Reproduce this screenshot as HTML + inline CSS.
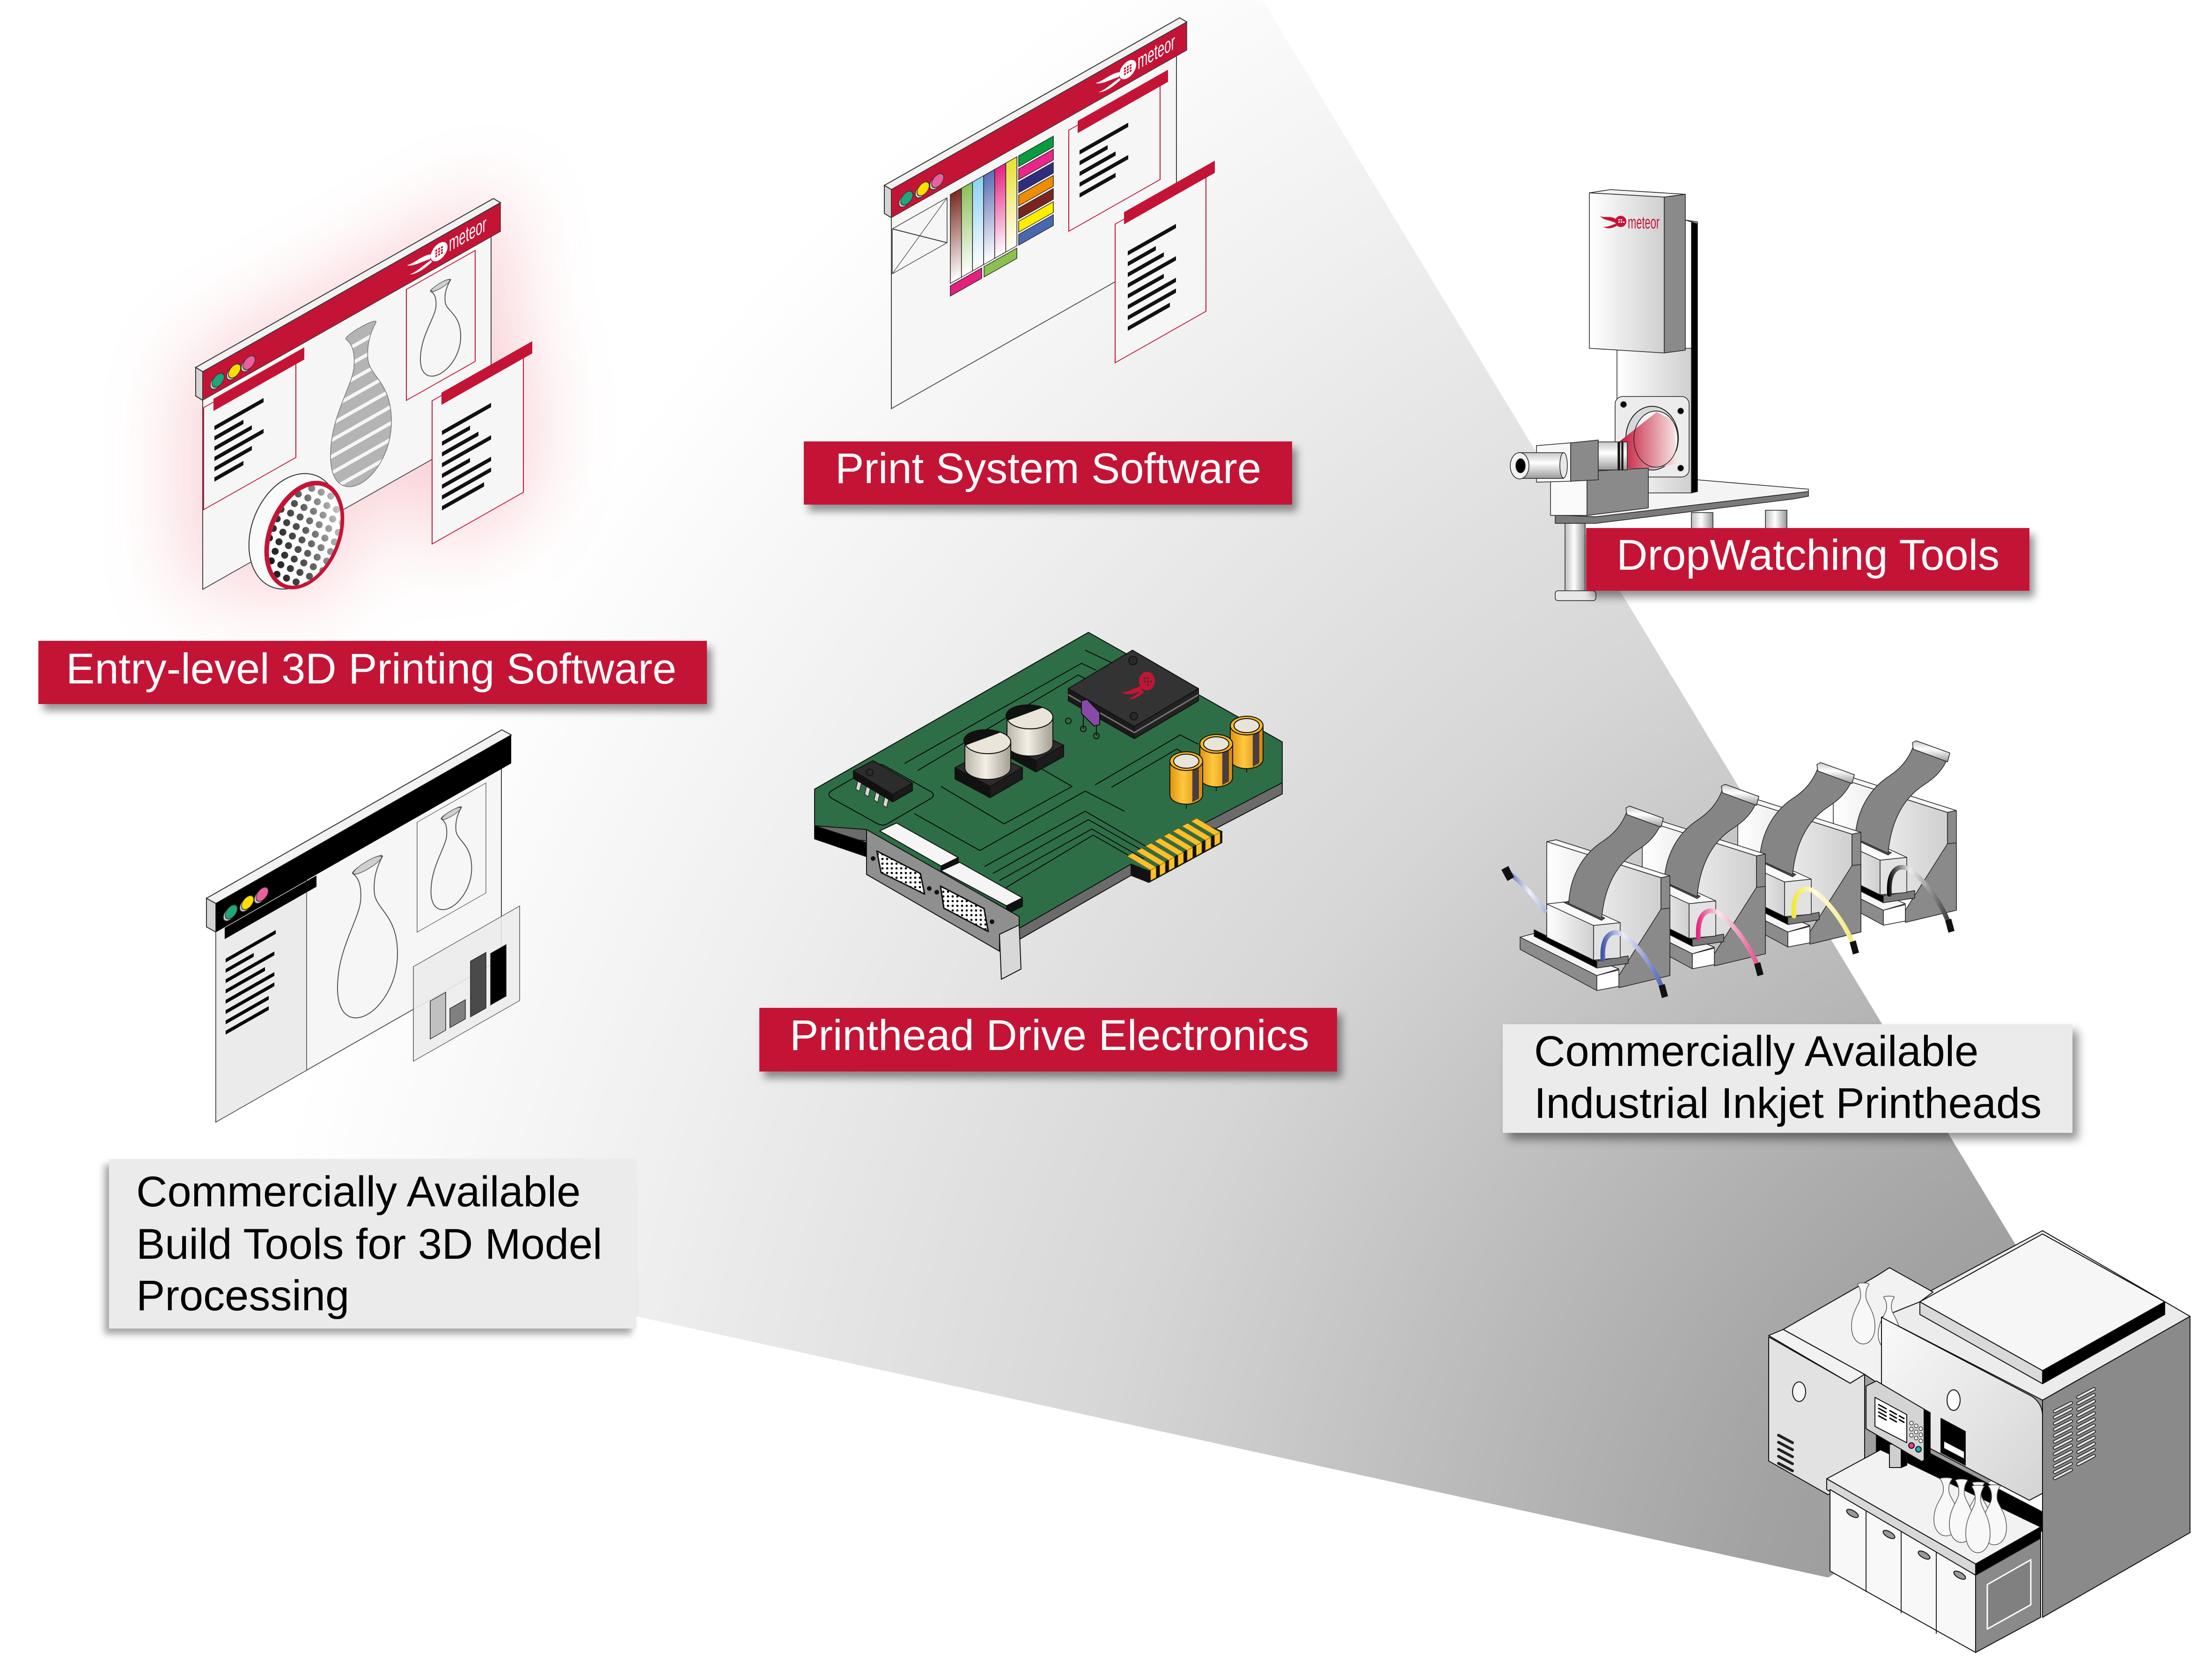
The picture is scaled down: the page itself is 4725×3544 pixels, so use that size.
<!DOCTYPE html>
<html><head><meta charset="utf-8"><title>Meteor</title>
<style>
html,body{margin:0;padding:0;background:#fff}
#root{position:relative;width:4725px;height:3544px;overflow:hidden;background:#fff}
#root svg{position:absolute;left:0;top:0}
.lab{position:absolute;background:#c41436;box-shadow:10px 14px 16px rgba(0,0,0,.42)}
.gbox{position:absolute;background:#ebebeb}
.t{position:absolute;font-family:"Liberation Sans",Arial,sans-serif;font-size:92px;line-height:92px;white-space:nowrap}
.w{color:#fff}.k{color:#000}
</style></head><body><div id="root">
<svg width="4725" height="3544" viewBox="0 0 4725 3544" xmlns="http://www.w3.org/2000/svg">
<defs>
<radialGradient id="cone" gradientUnits="userSpaceOnUse" cx="4862" cy="3579" r="4400">
<stop offset="0" stop-color="#8a8a8a"/><stop offset="0.26" stop-color="#a2a2a2"/><stop offset="0.58" stop-color="#d6d6d6"/><stop offset="0.82" stop-color="#efefef"/><stop offset="0.93" stop-color="#f9f9f9"/><stop offset="1" stop-color="#ffffff"/>
</radialGradient>
<filter id="glow" x="-60%" y="-60%" width="220%" height="220%"><feGaussianBlur stdDeviation="90"/></filter>
<pattern id="dots" patternUnits="userSpaceOnUse" width="22" height="22"><circle cx="11" cy="11" r="7.5" fill="#000"/></pattern>
<pattern id="pdots" patternUnits="userSpaceOnUse" width="10" height="10"><circle cx="5" cy="5" r="2.4" fill="#000"/></pattern>
<pattern id="stripe" patternUnits="userSpaceOnUse" width="100" height="10.5"><rect width="100" height="8" fill="#b4b4b4"/><rect y="8" width="100" height="2.5" fill="#f6f6f6"/></pattern>
<path id="vase" vector-effect="non-scaling-stroke" d="M-10,2 C-10,-1 10,-1 10,2 C6,7 4,13 4.5,22 C5,34 19.5,45 20,70 C20.5,90 10,100 0,100 C-10,100 -20.5,90 -20,70 C-19.5,45 -5,34 -4.5,22 C-4,13 -6,7 -10,2 Z"/>
<linearGradient id="s1" x1="0" y1="0" x2="0" y2="1"><stop offset="0" stop-color="#7b2a22"/><stop offset="1" stop-color="#fff"/></linearGradient>
<linearGradient id="s2" x1="0" y1="0" x2="0" y2="1"><stop offset="0" stop-color="#8cc05a"/><stop offset="1" stop-color="#fff"/></linearGradient>
<linearGradient id="s3" x1="0" y1="0" x2="0" y2="1"><stop offset="0" stop-color="#8ed2f2"/><stop offset="1" stop-color="#fff"/></linearGradient>
<linearGradient id="s4" x1="0" y1="0" x2="0" y2="1"><stop offset="0" stop-color="#5b6fb2"/><stop offset="1" stop-color="#fff"/></linearGradient>
<linearGradient id="s5" x1="0" y1="0" x2="0" y2="1"><stop offset="0" stop-color="#e52283"/><stop offset="1" stop-color="#fff"/></linearGradient>
<linearGradient id="s6" x1="0" y1="0" x2="0" y2="1"><stop offset="0" stop-color="#e8e030"/><stop offset="1" stop-color="#fff"/></linearGradient>
<linearGradient id="mg" x1="0" y1="0" x2="1" y2="0"><stop offset="0" stop-color="#b9b4a6"/><stop offset="0.45" stop-color="#f3efe6"/><stop offset="1" stop-color="#a39e90"/></linearGradient>
<linearGradient id="gg" x1="0" y1="0" x2="1" y2="0"><stop offset="0" stop-color="#e0920c"/><stop offset="0.4" stop-color="#ffc840"/><stop offset="1" stop-color="#d08408"/></linearGradient>
<linearGradient id="cyl" x1="0" y1="0" x2="1" y2="0"><stop offset="0" stop-color="#bdbdbd"/><stop offset="0.45" stop-color="#ffffff"/><stop offset="1" stop-color="#969696"/></linearGradient>
<linearGradient id="cylv" x1="0" y1="0" x2="0" y2="1"><stop offset="0" stop-color="#c8c8c8"/><stop offset="0.4" stop-color="#ffffff"/><stop offset="1" stop-color="#9a9a9a"/></linearGradient>
<linearGradient id="wg" x1="0" y1="0" x2="1" y2="0"><stop offset="0" stop-color="#ffffff"/><stop offset="1" stop-color="#cfcfcf"/></linearGradient>
<linearGradient id="hoodg" x1="0" y1="0" x2="1" y2="1"><stop offset="0" stop-color="#fafafa"/><stop offset="1" stop-color="#d4d4d4"/></linearGradient>
<linearGradient id="rc" x1="0" y1="0" x2="1" y2="0"><stop offset="0" stop-color="#c41436"/><stop offset="1" stop-color="#f7e6e6"/></linearGradient>
<linearGradient id="fade" x1="1" y1="0" x2="0" y2="1"><stop offset="0" stop-color="#fff" stop-opacity="0.95"/><stop offset="0.5" stop-color="#fff" stop-opacity="0.35"/><stop offset="1" stop-color="#fff" stop-opacity="0"/></linearGradient>
<linearGradient id="tb" gradientUnits="userSpaceOnUse" x1="3420" y1="0" x2="3556" y2="0"><stop offset="0" stop-color="#3a4ea8"/><stop offset="0.35" stop-color="#eef0fa"/><stop offset="1" stop-color="#4a5cb0"/></linearGradient>
<linearGradient id="tp" gradientUnits="userSpaceOnUse" x1="3420" y1="0" x2="3556" y2="0"><stop offset="0" stop-color="#e2207a"/><stop offset="0.35" stop-color="#fbe6ef"/><stop offset="1" stop-color="#e04a88"/></linearGradient>
<linearGradient id="ty" gradientUnits="userSpaceOnUse" x1="3420" y1="0" x2="3556" y2="0"><stop offset="0" stop-color="#f2e630"/><stop offset="0.35" stop-color="#fffbe0"/><stop offset="1" stop-color="#f0e878"/></linearGradient>
<linearGradient id="tk" gradientUnits="userSpaceOnUse" x1="3420" y1="0" x2="3556" y2="0"><stop offset="0" stop-color="#000"/><stop offset="0.35" stop-color="#eeeeee"/><stop offset="1" stop-color="#333"/></linearGradient>
<linearGradient id="tbi" gradientUnits="userSpaceOnUse" x1="3213" y1="0" x2="3303" y2="0"><stop offset="0" stop-color="#3a4ea8"/><stop offset="0.6" stop-color="#f0f2fa"/><stop offset="1" stop-color="#aab4e0"/></linearGradient>
<g id="logoW">
<path d="M488,26 C470,17 455,25 436,20 C450,31 468,30 486,35 Z M487,38 C472,40 458,46 442,43 C457,51 474,49 490,43 Z" fill="#fff"/>
<circle cx="505" cy="30" r="18" fill="#fff"/>
<g fill="#c41436"><rect x="497" y="22" width="4" height="4"/><rect x="503" y="22" width="4" height="4"/><rect x="509" y="22" width="4" height="4"/><rect x="497" y="28" width="4" height="4"/><rect x="503" y="28" width="4" height="4"/><rect x="509" y="28" width="4" height="4"/><rect x="497" y="34" width="4" height="4"/><rect x="503" y="34" width="4" height="4"/><rect x="509" y="34" width="4" height="4"/></g>
<text x="526" y="42" font-family="Liberation Sans, Arial, sans-serif" font-size="46" fill="#fff" textLength="80" lengthAdjust="spacingAndGlyphs">meteor</text>
</g>
<g id="lights" stroke="#333" stroke-width="1.5">
<circle cx="29" cy="39" r="13" fill="#cfcfcf"/><circle cx="33" cy="37" r="13" fill="#1fa67a"/>
<circle cx="64" cy="39" r="13" fill="#cfcfcf"/><circle cx="68" cy="37" r="13" fill="#ffdf00"/>
<circle cx="95" cy="39" r="13" fill="#cfcfcf"/><circle cx="99" cy="37" r="13" fill="#e8609e"/>
</g>
<g id="phm" stroke="#222" stroke-width="1.5" stroke-linejoin="round">
<polygon points="3304,1798 3548,1875 3548,2086 3304,2002" fill="url(#wg)"/>
<polygon points="3304,1798 3324,1794 3567,1871 3548,1875" fill="#f6f6f6"/>
<polygon points="3548,1875 3567,1871 3567,2084 3548,2086" fill="#8a8a8a"/>
<polygon points="3458,2084 3548,1942 3567,1940 3567,2084 3458,2110" fill="#8a8a8a"/>
<polygon points="3247,2002 3277,1994 3458,2070 3411,2084" fill="#f4f4f4"/>
<polygon points="3247,2002 3411,2084 3411,2116 3247,2028" fill="#8c8c8c"/>
<polygon points="3411,2084 3458,2072 3458,2107 3411,2116" fill="#ffffff"/>
<polygon points="3277,1986 3411,2053 3411,2068 3277,2000" fill="#000"/>
<polygon points="3411,2053 3478,2042 3478,2058 3411,2068" fill="#7a7a7a"/>
<polygon points="3304,1931 3404,1977 3404,2051 3304,2002" fill="url(#wg)"/>
<polygon points="3404,1977 3461,1971 3461,2046 3404,2051" fill="#e2e2e2"/>
<polygon points="3304,1931 3360,1925 3461,1971 3404,1977" fill="#fafafa"/>
<polygon points="3341,1928 3351,1925 3428,1961 3421,1966" fill="#555"/>
<path d="M3351,1930 C3353,1880 3375,1830 3421,1799 C3450,1780 3465,1760 3475,1734 L3548,1760 C3535,1790 3515,1805 3495,1818 C3455,1845 3428,1890 3421,1962 Z" fill="#858585"/>
<polygon points="3473,1726 3481,1722 3553,1748 3548,1767 3475,1740" fill="url(#cylv)"/>
</g>
</defs>

<rect width="4725" height="3544" fill="#fff"/>
<polygon points="2697,0 4398,2812 4363,3100 3905,3370 0,2514 0,0" fill="url(#cone)"/>

<!-- ============ PANEL 1 : Entry-level ============ -->
<g filter="url(#glow)" opacity="0.27">
<polygon points="400,780 1085,400 1085,915 400,1290" fill="#e85060"/>
<polygon points="905,850 1135,725 1135,1070 905,1185" fill="#e85060"/>
<ellipse cx="630" cy="1135" rx="110" ry="145" fill="#e85060"/>
</g>
<polygon points="418,785 1054,424 1069,433 433,794" fill="#f2f2f2" stroke="#333" stroke-width="2"/>
<polygon points="418,785 433,794 433,855 418,846" fill="#d4d4d4" stroke="#333" stroke-width="2"/>
<g transform="matrix(1,-0.567,0,1,433,794)">
<rect x="0" y="0" width="616" height="465" fill="#f6f6f6" stroke="#444" stroke-width="2"/>
<rect x="0" y="0" width="636" height="61" fill="#c41436" stroke="#333" stroke-width="1.5"/>
<use href="#lights"/>
<use href="#logoW"/>
<rect x="2" y="78" width="197" height="218" fill="#f6f6f6" stroke="#c41436" stroke-width="2"/>
<rect x="23" y="71" width="194" height="26" fill="#c41436"/>
<g fill="#111"><rect x="25" y="130" width="105" height="9"/><rect x="25" y="152" width="62" height="9"/><rect x="25" y="174" width="80" height="9"/><rect x="25" y="196" width="105" height="9"/><rect x="25" y="218" width="80" height="9"/><rect x="25" y="240" width="62" height="9"/></g>
<use href="#vase" transform="translate(338,97) scale(3.25,3.33)" fill="url(#stripe)" stroke="#777" stroke-width="1.5"/>
<rect x="435" y="71" width="147" height="237" fill="#f6f6f6" stroke="#c41436" stroke-width="2"/>
<use href="#vase" transform="translate(508,100) scale(2.15,1.92)" fill="#f6f6f6" stroke="#555" stroke-width="2"/>
<ellipse cx="508" cy="104" rx="20" ry="6" fill="#cfcfcf" stroke="#555" stroke-width="1.5"/>
<rect x="490" y="340" width="195" height="306" fill="#f6f6f6" stroke="#c41436" stroke-width="2"/>
<rect x="510" y="334" width="194" height="26" fill="#c41436"/>
<g fill="#111"><rect x="511" y="416" width="105" height="9"/><rect x="511" y="439" width="60" height="9"/><rect x="511" y="462" width="78" height="9"/><rect x="511" y="485" width="105" height="9"/><rect x="511" y="508" width="60" height="9"/><rect x="511" y="531" width="105" height="9"/><rect x="511" y="554" width="105" height="9"/><rect x="511" y="577" width="90" height="9"/></g>
</g>
<ellipse cx="628" cy="1135" rx="90" ry="128" transform="rotate(22 628 1135)" fill="#fafafa" stroke="#333" stroke-width="2"/>
<ellipse cx="650" cy="1143" rx="78" ry="121" transform="rotate(22 650 1143)" fill="#c41436"/>
<ellipse cx="651" cy="1144" rx="69" ry="112" transform="rotate(22 651 1144)" fill="#fff"/>
<ellipse cx="651" cy="1144" rx="69" ry="112" transform="rotate(22 651 1144)" fill="url(#dots)"/>
<ellipse cx="651" cy="1144" rx="69" ry="112" transform="rotate(22 651 1144)" fill="url(#fade)"/>

<!-- ============ PANEL 2 : Print System ============ -->
<polygon points="1889,396 2520,38 2535,47 1904,405" fill="#f2f2f2" stroke="#333" stroke-width="2"/>
<polygon points="1889,396 1904,405 1904,465 1889,456" fill="#d4d4d4" stroke="#333" stroke-width="2"/>
<g transform="matrix(1,-0.567,0,1,1904,405)">
<rect x="0" y="0" width="609" height="468" fill="#f6f6f6" stroke="#444" stroke-width="2"/>
<rect x="0" y="0" width="631" height="60" fill="#c41436" stroke="#333" stroke-width="1.5"/>
<use href="#lights"/>
<use href="#logoW"/>
<rect x="2" y="85" width="117" height="96" fill="#f6f6f6" stroke="#333" stroke-width="1.5"/>
<path d="M2,85 L119,181 M119,85 L2,181" stroke="#333" stroke-width="1.5"/>
<g stroke="#222" stroke-width="1.5">
<rect x="126" y="82" width="23.7" height="190" fill="url(#s1)"/>
<rect x="149.7" y="82" width="23.7" height="190" fill="url(#s2)"/>
<rect x="173.4" y="82" width="23.7" height="190" fill="url(#s3)"/>
<rect x="197.1" y="82" width="23.7" height="190" fill="url(#s4)"/>
<rect x="220.8" y="82" width="23.7" height="190" fill="url(#s5)"/>
<rect x="244.5" y="82" width="23.7" height="190" fill="url(#s6)"/>
<rect x="126" y="277" width="67" height="22" fill="#e4207e"/>
<rect x="198" y="277" width="70" height="22" fill="#8cc050"/>
<rect x="272" y="82" width="74" height="23" fill="#0a9a40"/>
<rect x="272" y="110" width="74" height="23" fill="#e6288a"/>
<rect x="272" y="138" width="74" height="23" fill="#2e2e80"/>
<rect x="272" y="166" width="74" height="23" fill="#f08c00"/>
<rect x="272" y="194" width="74" height="23" fill="#7a2420"/>
<rect x="272" y="222" width="74" height="23" fill="#ffee00"/>
<rect x="272" y="250" width="74" height="23" fill="#4a68b0"/>
</g>
<rect x="379" y="88" width="195" height="216" fill="#f6f6f6" stroke="#c41436" stroke-width="2"/>
<rect x="398" y="79" width="193" height="26" fill="#c41436"/>
<g fill="#111"><rect x="402" y="144" width="104" height="9"/><rect x="402" y="167" width="60" height="9"/><rect x="402" y="190" width="77" height="9"/><rect x="402" y="213" width="104" height="9"/><rect x="402" y="236" width="77" height="9"/></g>
<rect x="478" y="345" width="194" height="296" fill="#f6f6f6" stroke="#c41436" stroke-width="2"/>
<rect x="497" y="330" width="194" height="26" fill="#c41436"/>
<g fill="#111"><rect x="505" y="418" width="103" height="9"/><rect x="505" y="441" width="60" height="9"/><rect x="505" y="464" width="77" height="9"/><rect x="505" y="487" width="103" height="9"/><rect x="505" y="510" width="77" height="9"/><rect x="505" y="533" width="103" height="9"/><rect x="505" y="556" width="103" height="9"/><rect x="505" y="579" width="90" height="9"/></g>
</g>

<!-- ============ PANEL 3 : Build tools ============ -->
<polygon points="441,1919 1072,1559 1092,1570 461,1930" fill="#f2f2f2" stroke="#333" stroke-width="2"/>
<polygon points="441,1919 461,1930 461,1991 441,1980" fill="#d4d4d4" stroke="#333" stroke-width="2"/>
<g transform="matrix(1,-0.571,0,1,461,1930)">
<rect x="0" y="0" width="610" height="467" fill="#f6f6f6" stroke="#444" stroke-width="2"/>
<rect x="0" y="61" width="194" height="406" fill="#ebebeb" stroke="#444" stroke-width="1.5"/>
<rect x="0" y="0" width="631" height="61" fill="#000"/>
<use href="#lights"/>
<rect x="19" y="63" width="196" height="24" fill="#000"/>
<g fill="#000"><rect x="21" y="130" width="107" height="8"/><rect x="21" y="152" width="60" height="8"/><rect x="21" y="174" width="104" height="8"/><rect x="21" y="196" width="84" height="8"/><rect x="21" y="218" width="104" height="8"/><rect x="21" y="240" width="104" height="8"/><rect x="21" y="262" width="92" height="8"/><rect x="21" y="284" width="92" height="8"/></g>
<use href="#vase" transform="translate(324,96) scale(3.2,3.26)" fill="#f6f6f6" stroke="#555" stroke-width="2"/>
<ellipse cx="324" cy="103" rx="30" ry="9" fill="#cfcfcf" stroke="#555" stroke-width="1.5"/>
<rect x="430" y="72" width="147" height="235" fill="#f6f6f6" stroke="#666" stroke-width="1.5"/>
<use href="#vase" transform="translate(503,90) scale(2.17,2.05)" fill="#f6f6f6" stroke="#555" stroke-width="2"/>
<ellipse cx="503" cy="95" rx="20" ry="6" fill="#cfcfcf" stroke="#555" stroke-width="1.5"/>
<rect x="422" y="376" width="227" height="202" fill="#ececec" fill-opacity="0.9" stroke="#555" stroke-width="1.5"/>
<g stroke="#222" stroke-width="1.5"><rect x="458" y="470" width="33" height="81" fill="#c0c0c0"/><rect x="500" y="510" width="33" height="41" fill="#808080"/><rect x="544" y="434" width="33" height="119" fill="#4a4a4a"/><rect x="587" y="442" width="33" height="110" fill="#000"/></g>
</g>

<!-- ============ PCB ============ -->
<g stroke="#111" stroke-width="2" stroke-linejoin="round">
<polygon points="1740,1686 2325,1351 2739,1585 2739,1696 2570,1784 2610,1800 2454,1885 2416,1870 2177,2007 1851,1796 1740,1788" fill="#6b6b6b"/>
<polygon points="1740,1764 1851,1800 1851,1830 1740,1792" fill="#000"/>
<polygon points="1740,1686 2325,1351 2739,1585 2739,1672 2570,1760 2610,1776 2454,1861 2416,1846 2177,1983 1851,1772 1740,1764" fill="#2e6e46"/>
<g fill="none" stroke="#0c0c0c" stroke-width="2">
<polyline points="2318,1389 2405,1430"/>
<polyline points="1932,1631 2310,1417 2342,1432"/>
<polyline points="1960,1646 2303,1442 2328,1455"/>
<polyline points="1953,1738 2093,1817 2318,1690 2402,1733"/>
<polyline points="2103,1851 2318,1733 2472,1822"/>
<polyline points="2121,1866 2325,1751 2458,1827"/>
<polyline points="2135,1881 2332,1771 2444,1835"/>
<polyline points="2149,1896 2335,1784 2433,1840"/>
<polyline points="2339,1677 2521,1570 2560,1590"/>
<polyline points="2374,1682 2514,1600 2539,1616"/>
<polyline points="2010,1680 2145,1760 2290,1680 2200,1628"/>
<path d="M1775,1690 L1870,1635 Q1880,1630 1890,1636 L1990,1692 Q1998,1700 1988,1706 L1895,1760 Q1885,1765 1875,1760 L1776,1705 Q1766,1698 1775,1690 Z"/>
</g>
<polygon points="2454,1861 2610,1776 2610,1798 2454,1883" fill="#111"/>
<polygon points="2416,1846 2454,1861 2454,1883 2416,1868" fill="#111"/>
<g fill="#f8c030" stroke="#8a6000" stroke-width="1">
<polygon points="2457.9,1858.9 2469.6,1852.5 2419.6,1822.5 2407.9,1828.9"/>
<polygon points="2477.4,1848.3 2489.1,1841.9 2439.1,1811.9 2427.4,1818.3"/>
<polygon points="2496.9,1837.6 2508.6,1831.2 2458.6,1801.2 2446.9,1807.6"/>
<polygon points="2516.4,1827 2528.1,1820.6 2478.1,1790.6 2466.4,1797"/>
<polygon points="2535.9,1816.4 2547.6,1810 2497.6,1780 2485.9,1786.4"/>
<polygon points="2555.4,1805.8 2567.1,1799.4 2517.1,1769.4 2505.4,1775.8"/>
<polygon points="2574.9,1795.1 2586.6,1788.7 2536.6,1758.7 2524.9,1765.1"/>
<polygon points="2594.4,1784.5 2606.1,1778.1 2556.1,1748.1 2544.4,1754.5"/>
<polygon points="2457.9,1858.9 2469.6,1852.5 2469.6,1874.5 2457.9,1880.9"/>
<polygon points="2477.4,1848.3 2489.1,1841.9 2489.1,1863.9 2477.4,1870.3"/>
<polygon points="2496.9,1837.6 2508.6,1831.2 2508.6,1853.2 2496.9,1859.6"/>
<polygon points="2516.4,1827 2528.1,1820.6 2528.1,1842.6 2516.4,1849"/>
<polygon points="2535.9,1816.4 2547.6,1810 2547.6,1832 2535.9,1838.4"/>
<polygon points="2555.4,1805.8 2567.1,1799.4 2567.1,1821.4 2555.4,1827.8"/>
<polygon points="2574.9,1795.1 2586.6,1788.7 2586.6,1810.7 2574.9,1817.1"/>
<polygon points="2594.4,1784.5 2606.1,1778.1 2606.1,1800.1 2594.4,1806.5"/>
</g>
<polygon points="1823,1647 1907,1697 1907,1713 1823,1663" fill="#111"/>
<polygon points="1907,1697 1949,1673 1949,1689 1907,1713" fill="#1a1a1a"/>
<polygon points="1823,1647 1865,1625 1949,1673 1907,1697" fill="#2c2c2c"/>
<circle cx="1858" cy="1650" r="7" fill="#2c2c2c"/>
<g fill="#d6d6d6" stroke="#222" stroke-width="1.5">
<polygon points="1832,1669 1840,1673 1836,1690 1828,1686"/><polygon points="1851,1680 1859,1685 1855,1702 1847,1697"/><polygon points="1871,1692 1879,1697 1875,1714 1867,1709"/><polygon points="1890,1703 1898,1708 1894,1725 1886,1720"/>
</g>
<polygon points="2149,1590 2213,1625 2213,1649 2149,1614" fill="#111"/>
<polygon points="2213,1625 2272,1592 2272,1616 2213,1649" fill="#1c1c1c"/>
<polygon points="2149,1590 2205,1560 2272,1592 2213,1625" fill="#2c2c2c"/>
<path d="M2151,1532 L2151,1590 A49,25 0 0 0 2249,1590 L2249,1532 Z" fill="url(#mg)"/>
<ellipse cx="2200" cy="1532" rx="49" ry="25" fill="#e9e5da"/>
<path d="M2153,1538 A47,23 0 0 1 2226,1511 Z" fill="#111"/>
<polygon points="2040,1640 2115,1680 2115,1704 2040,1664" fill="#111"/>
<polygon points="2115,1680 2184,1640 2184,1664 2115,1704" fill="#1c1c1c"/>
<polygon points="2040,1640 2105,1605 2184,1640 2115,1680" fill="#2c2c2c"/>
<path d="M2061,1585 L2061,1640 A49,25 0 0 0 2159,1640 L2159,1585 Z" fill="url(#mg)"/>
<ellipse cx="2110" cy="1585" rx="49" ry="25" fill="#e9e5da"/>
<path d="M2063,1591 A47,23 0 0 1 2136,1564 Z" fill="#111"/>
<polygon points="2282,1471 2423,1552 2423,1578 2282,1497" fill="#1a1a1a"/>
<polygon points="2423,1552 2560,1471 2560,1497 2423,1578" fill="#232323"/>
<polyline points="2282,1484 2423,1565 2560,1484" fill="none" stroke="#777" stroke-width="3"/>
<polygon points="2282,1471 2419,1389 2560,1471 2423,1552" fill="#333"/>
<circle cx="2420" cy="1411" r="9" fill="#2a2a2a"/><circle cx="2422" cy="1530" r="8" fill="#2a2a2a"/>
<g stroke="none" fill="#c41436"><ellipse cx="2450" cy="1455" rx="17" ry="20"/><path d="M2436,1466 C2420,1470 2410,1480 2395,1478 C2408,1488 2425,1482 2440,1474 Z M2438,1474 C2428,1484 2420,1490 2410,1492 C2422,1496 2432,1488 2444,1478 Z"/></g>
<g stroke="none" fill="#333"><rect x="2443" y="1447" width="4" height="4"/><rect x="2450" y="1447" width="4" height="4"/><rect x="2443" y="1454" width="4" height="4"/><rect x="2450" y="1454" width="4" height="4"/><rect x="2457" y="1454" width="4" height="4"/><rect x="2450" y="1461" width="4" height="4"/></g>
<line x1="2314" y1="1524" x2="2314" y2="1557"/><line x1="2342" y1="1548" x2="2342" y2="1572"/>
<circle cx="2314" cy="1557" r="6" fill="none"/><circle cx="2342" cy="1572" r="6" fill="none"/><circle cx="2282" cy="1540" r="6" fill="none"/>
<polygon points="2310,1497 2322,1494 2349,1522 2349,1548 2337,1551 2310,1524" fill="#8a48a8"/>
<g>
<line x1="2663" y1="1620" x2="2663" y2="1650"/>
<path d="M2628,1550 L2628,1622 A35,20 0 0 0 2698,1622 L2698,1550 Z" fill="url(#gg)"/>
<path d="M2676,1565 L2690,1558 L2690,1630 L2676,1638 Z" fill="#4a3c40" stroke="none"/>
<ellipse cx="2663" cy="1550" rx="35" ry="20" fill="#f5b820"/><ellipse cx="2663" cy="1550" rx="27" ry="15" fill="#e8e4da"/>
<line x1="2598" y1="1660" x2="2598" y2="1690"/>
<path d="M2563,1589 L2563,1661 A35,20 0 0 0 2633,1661 L2633,1589 Z" fill="url(#gg)"/>
<path d="M2611,1604 L2625,1597 L2625,1669 L2611,1677 Z" fill="#4a3c40" stroke="none"/>
<ellipse cx="2598" cy="1589" rx="35" ry="20" fill="#f5b820"/><ellipse cx="2598" cy="1589" rx="27" ry="15" fill="#e8e4da"/>
<line x1="2534" y1="1697" x2="2534" y2="1728"/>
<path d="M2499,1626 L2499,1698 A35,20 0 0 0 2569,1698 L2569,1626 Z" fill="url(#gg)"/>
<path d="M2547,1641 L2561,1634 L2561,1706 L2547,1714 Z" fill="#4a3c40" stroke="none"/>
<ellipse cx="2534" cy="1626" rx="35" ry="20" fill="#f5b820"/><ellipse cx="2534" cy="1626" rx="27" ry="15" fill="#e8e4da"/>
</g>
<polygon points="1879,1775 1915,1758 2047,1832 2010,1850" fill="#f5f5f5"/>
<polygon points="2010,1850 2047,1832 2047,1846 2010,1864" fill="#111"/>
<polygon points="2010,1860 2050,1842 2184,1918 2150,1935" fill="#f5f5f5"/>
<polygon points="2150,1935 2184,1918 2184,1936 2150,1953" fill="#111"/>
<polygon points="1851,1772 2177,1958 2177,1976 2135,1996 2135,2032 1851,1868" fill="#8f8f8f"/>
<polygon points="2135,1996 2177,1976 2181,2070 2139,2092" fill="#d8d8d8"/>
<polygon points="1873,1818 1966,1866 1975,1910 1882,1864" fill="#fff" stroke-width="3"/>
<polygon points="1873,1818 1966,1866 1975,1910 1882,1864" fill="url(#pdots)" stroke="none"/>
<polygon points="2009,1893 2102,1941 2111,1990 2016,1940" fill="#fff" stroke-width="3"/>
<polygon points="2009,1893 2102,1941 2111,1990 2016,1940" fill="url(#pdots)" stroke="none"/>
<g fill="#111" stroke="none"><circle cx="1865" cy="1834" r="5"/><circle cx="1985" cy="1898" r="5"/><circle cx="2001" cy="1906" r="5"/><circle cx="2119" cy="1969" r="5"/></g>
</g>

<!-- ============ DropWatching ============ -->
<g stroke="#222" stroke-width="1.5" stroke-linejoin="round">
<rect x="3613" y="1095" width="46" height="45" fill="url(#cyl)"/>
<rect x="3771" y="1090" width="46" height="50" fill="url(#cyl)"/>
<polygon points="3322,1100 3450,1050 3626,1025 3863,1045 3863,1050 3409,1104" fill="#f4f4f4"/>
<polygon points="3322,1100 3409,1104 3863,1050 3863,1060 3830,1066 3409,1118 3322,1118" fill="#7a7a7a"/>
<rect x="3343" y="1118" width="43" height="148" fill="url(#cyl)"/>
<rect x="3322" y="1262" width="87" height="21" rx="6" fill="#e8e8e8"/>
<rect x="3454" y="744" width="159" height="309" fill="url(#wg)"/>
<polygon points="3613,474 3626,478 3626,1050 3613,1053" fill="#000"/>
<polygon points="3600,470 3626,474 3626,478 3613,474" fill="#bbb"/>
<polygon points="3395,412 3440,405 3600,415 3555,421" fill="#f2f2f2"/>
<polygon points="3395,412 3555,421 3555,754 3395,744" fill="url(#wg)"/>
<polygon points="3555,421 3600,415 3600,748 3555,754" fill="#8a8a8a"/>
<rect x="3450" y="847" width="158" height="172" rx="16" fill="#ececec"/>
<g fill="#000"><circle cx="3468" cy="864" r="6"/><circle cx="3590" cy="878" r="6"/><circle cx="3590" cy="1000" r="6"/></g>
<ellipse cx="3529" cy="936" rx="56" ry="68" fill="#d8d8d8" stroke-width="2"/>
<ellipse cx="3537" cy="938" rx="47" ry="60" fill="#f4f4f4"/>
<polygon points="3458,944 3539,880 3576,900 3582,990 3530,1001 3476,1001" fill="url(#rc)" stroke="none"/>
<ellipse cx="3537" cy="938" rx="47" ry="60" fill="none"/>
<polygon points="3312,1007 3390,1007 3390,1101 3312,1101" fill="#fafafa"/>
<polygon points="3390,1007 3521,1000 3521,1085 3390,1101" fill="#8a8a8a"/>
<polygon points="3282,952 3355,946 3355,1028 3282,1030" fill="#f8f8f8"/>
<polygon points="3355,946 3414,940 3414,1025 3355,1028" fill="#8a8a8a"/>
<rect x="3414" y="944" width="62" height="60" fill="url(#cylv)"/>
<rect x="3456" y="944" width="4" height="60" fill="#111"/><rect x="3464" y="944" width="3" height="60" fill="#111"/>
<rect x="3246" y="967" width="94" height="55" fill="url(#cylv)"/>
<ellipse cx="3340" cy="994" rx="8" ry="27" fill="#e8e8e8"/>
<ellipse cx="3246" cy="995" rx="20" ry="28" fill="#f2f2f2"/>
<ellipse cx="3248" cy="995" rx="10" ry="15" fill="#000"/>
</g>
<g fill="#c41436">
<circle cx="3462" cy="473" r="12"/>
<path d="M3452,468 C3440,460 3430,466 3418,462 C3428,472 3440,470 3450,476 Z M3451,478 C3440,482 3432,486 3424,484 C3434,490 3444,488 3454,482 Z"/>
<text x="3477" y="488" font-family="Liberation Sans, Arial, sans-serif" font-size="38" textLength="68" lengthAdjust="spacingAndGlyphs">meteor</text>
</g>
<g fill="#fff"><rect x="3457" y="468" width="3" height="3"/><rect x="3462" y="468" width="3" height="3"/><rect x="3457" y="473" width="3" height="3"/><rect x="3462" y="473" width="3" height="3"/><rect x="3467" y="473" width="3" height="3"/></g>

<!-- ============ Printheads ============ -->
<use href="#phm" transform="translate(612,-139.5)"/>
<g transform="translate(612,-139.5)"><path d="M3424,2050 C3420,1990 3450,1985 3468,1998 C3500,2020 3535,2070 3550,2110" fill="none" stroke="url(#tk)" stroke-width="10" stroke-linecap="round"/><polygon points="3543,2106 3556,2102 3563,2128 3550,2132" fill="#111"/></g>
<use href="#phm" transform="translate(408,-93)"/>
<g transform="translate(408,-93)"><path d="M3424,2050 C3420,1990 3450,1985 3468,1998 C3500,2020 3535,2070 3550,2110" fill="none" stroke="url(#ty)" stroke-width="10" stroke-linecap="round"/><polygon points="3543,2106 3556,2102 3563,2128 3550,2132" fill="#111"/></g>
<use href="#phm" transform="translate(204,-46.5)"/>
<g transform="translate(204,-46.5)"><path d="M3424,2050 C3420,1990 3450,1985 3468,1998 C3500,2020 3535,2070 3550,2110" fill="none" stroke="url(#tp)" stroke-width="10" stroke-linecap="round"/><polygon points="3543,2106 3556,2102 3563,2128 3550,2132" fill="#111"/></g>
<use href="#phm"/>
<path d="M3424,2050 C3420,1990 3450,1985 3468,1998 C3500,2020 3535,2070 3550,2110" fill="none" stroke="url(#tb)" stroke-width="10" stroke-linecap="round"/>
<polygon points="3543,2106 3556,2102 3563,2128 3550,2132" fill="#111"/>
<path d="M3220,1862 C3250,1885 3278,1915 3303,1950" fill="none" stroke="url(#tbi)" stroke-width="9"/>
<polygon points="3207,1858 3222,1850 3234,1874 3220,1882" fill="#111"/>

<!-- ============ Printer ============ -->
<g stroke="#111" stroke-width="2" stroke-linejoin="round">
<polygon points="4363,2991 4678,2812 4678,3274 4363,3455" fill="#8a8a8a"/>
<polygon points="4019,2814 4363,2629 4678,2812 4363,2991" fill="#ececec"/>
<polygon points="4101,2781 4363,2636 4624,2781 4363,2928" fill="#f6f6f6"/>
<polygon points="4101,2781 4363,2928 4363,2956 4101,2808" fill="#d9d9d9"/>
<polygon points="4363,2928 4624,2781 4624,2808 4363,2956" fill="#000"/>
<polygon points="3809,2840 4008,2726 4036,2708 4129,2760 4101,2781 4019,2814 4019,2960 3983,2936" fill="#f2f2f2"/>
<polygon points="3778,2853 3809,2840 3983,2936 3952,2955" fill="#f2f2f2"/>
<polygon points="3778,2856 3952,2955 3983,2936 3983,3160 3905,3193 3778,3121" fill="#e2e2e2"/>
<ellipse cx="3843" cy="2973" rx="14" ry="21" fill="#f6f6f6"/>
<g stroke="#222" stroke-width="6" stroke-linecap="round"><line x1="3799" y1="3066" x2="3829" y2="3082"/><line x1="3799" y1="3081" x2="3829" y2="3097"/><line x1="3799" y1="3096" x2="3829" y2="3112"/><line x1="3799" y1="3111" x2="3829" y2="3127"/><line x1="3799" y1="3126" x2="3829" y2="3142"/></g>
<use href="#vase" transform="translate(3980,2741) scale(1.25,1.3)" fill="#f8f8f8" stroke="#555" stroke-width="1.5"/>
<use href="#vase" transform="translate(4035,2769) scale(1.15,1.14)" fill="#f8f8f8" stroke="#555" stroke-width="1.5"/>
<path d="M4019,2814 L4335,2980 Q4363,2995 4363,3025 L4363,3190 L4335,3205 L4019,3040 Z" fill="url(#hoodg)"/>
<ellipse cx="4173" cy="2991" rx="14" ry="22" fill="#fff"/>
<polygon points="4146,3030 4198,3058 4198,3130 4146,3103" fill="#000"/>
<polygon points="4152,3078 4196,3101 4196,3117 4152,3094" fill="#fff"/>
<polygon points="4008,3045 4363,3230 4363,3272 4008,3110" fill="#000"/>
<g stroke-linecap="round">
<g stroke="#333" stroke-width="8"><line x1="4389" y1="3015" x2="4424" y2="2997"/><line x1="4389" y1="3028" x2="4424" y2="3010"/><line x1="4389" y1="3041" x2="4424" y2="3023"/><line x1="4389" y1="3054" x2="4424" y2="3036"/><line x1="4389" y1="3067" x2="4424" y2="3049"/><line x1="4389" y1="3080" x2="4424" y2="3062"/><line x1="4389" y1="3093" x2="4424" y2="3075"/><line x1="4389" y1="3106" x2="4424" y2="3088"/><line x1="4389" y1="3119" x2="4424" y2="3101"/><line x1="4389" y1="3132" x2="4424" y2="3114"/><line x1="4389" y1="3145" x2="4424" y2="3127"/><line x1="4389" y1="3158" x2="4424" y2="3140"/>
<line x1="4439" y1="2985" x2="4473" y2="2967"/><line x1="4439" y1="2998" x2="4473" y2="2980"/><line x1="4439" y1="3011" x2="4473" y2="2993"/><line x1="4439" y1="3024" x2="4473" y2="3006"/><line x1="4439" y1="3037" x2="4473" y2="3019"/><line x1="4439" y1="3050" x2="4473" y2="3032"/><line x1="4439" y1="3063" x2="4473" y2="3045"/><line x1="4439" y1="3076" x2="4473" y2="3058"/><line x1="4439" y1="3089" x2="4473" y2="3071"/><line x1="4439" y1="3102" x2="4473" y2="3084"/><line x1="4439" y1="3115" x2="4473" y2="3097"/><line x1="4439" y1="3128" x2="4473" y2="3110"/></g>
<g stroke="#e6e6e6" stroke-width="4"><line x1="4389" y1="3015" x2="4424" y2="2997"/><line x1="4389" y1="3028" x2="4424" y2="3010"/><line x1="4389" y1="3041" x2="4424" y2="3023"/><line x1="4389" y1="3054" x2="4424" y2="3036"/><line x1="4389" y1="3067" x2="4424" y2="3049"/><line x1="4389" y1="3080" x2="4424" y2="3062"/><line x1="4389" y1="3093" x2="4424" y2="3075"/><line x1="4389" y1="3106" x2="4424" y2="3088"/><line x1="4389" y1="3119" x2="4424" y2="3101"/><line x1="4389" y1="3132" x2="4424" y2="3114"/><line x1="4389" y1="3145" x2="4424" y2="3127"/><line x1="4389" y1="3158" x2="4424" y2="3140"/>
<line x1="4439" y1="2985" x2="4473" y2="2967"/><line x1="4439" y1="2998" x2="4473" y2="2980"/><line x1="4439" y1="3011" x2="4473" y2="2993"/><line x1="4439" y1="3024" x2="4473" y2="3006"/><line x1="4439" y1="3037" x2="4473" y2="3019"/><line x1="4439" y1="3050" x2="4473" y2="3032"/><line x1="4439" y1="3063" x2="4473" y2="3045"/><line x1="4439" y1="3076" x2="4473" y2="3058"/><line x1="4439" y1="3089" x2="4473" y2="3071"/><line x1="4439" y1="3102" x2="4473" y2="3084"/><line x1="4439" y1="3115" x2="4473" y2="3097"/><line x1="4439" y1="3128" x2="4473" y2="3110"/></g>
</g>
<polygon points="3902,3159 4017,3097 4359,3262 4220,3341" fill="#f2f2f2"/>
<polygon points="3902,3159 4220,3341 4220,3365 3902,3182" fill="#d8d8d8"/>
<polygon points="4220,3341 4359,3262 4359,3286 4220,3365" fill="#000"/>
<polygon points="3909,3182 4220,3365 4220,3530 3909,3356" fill="#f8f8f8"/>
<g stroke="#222" stroke-width="2"><line x1="3986" y1="3227" x2="3986" y2="3401"/><line x1="4061" y1="3272" x2="4061" y2="3446"/><line x1="4136" y1="3316" x2="4136" y2="3490"/></g>
<g fill="#9a9a9a"><ellipse cx="3957" cy="3233" rx="14" ry="6" transform="rotate(30 3957 3233)"/><ellipse cx="4035" cy="3278" rx="14" ry="6" transform="rotate(30 4035 3278)"/><ellipse cx="4110" cy="3322" rx="14" ry="6" transform="rotate(30 4110 3322)"/><ellipse cx="4186" cy="3365" rx="14" ry="6" transform="rotate(30 4186 3365)"/></g>
<polygon points="4220,3365 4359,3286 4359,3455 4220,3530" fill="#8a8a8a"/>
<polygon points="4245,3385 4338,3332 4338,3428 4245,3480" fill="#808080" stroke="#fff" stroke-width="3"/>
<rect x="4036" y="3085" width="25" height="50" fill="#cfcfcf"/>
<polygon points="4061,3085 4073,3080 4073,3130 4061,3135" fill="#000"/>
<polygon points="3986,2961 4008,2950 4123,3018 4123,3112 4105,3122 3986,3052" fill="#d4d4d4"/>
<polygon points="4110,3011 4123,3018 4123,3112 4110,3119" fill="#000"/>
<polygon points="4005,2985 4073,3022 4073,3082 4005,3047" fill="#fff"/>
<g stroke="#000" stroke-width="3"><line x1="4012" y1="3000" x2="4030" y2="3010"/><line x1="4012" y1="3008" x2="4030" y2="3018"/><line x1="4012" y1="3016" x2="4030" y2="3026"/><line x1="4012" y1="3024" x2="4030" y2="3034"/><line x1="4036" y1="3013" x2="4052" y2="3022"/><line x1="4036" y1="3021" x2="4052" y2="3030"/><line x1="4036" y1="3029" x2="4052" y2="3038"/><line x1="4056" y1="3024" x2="4068" y2="3031"/><line x1="4056" y1="3032" x2="4068" y2="3039"/></g>
<g fill="#fff" stroke-width="1.2"><circle cx="4083" cy="3040" r="4"/><circle cx="4093" cy="3046" r="4"/><circle cx="4103" cy="3052" r="4"/><circle cx="4083" cy="3053" r="4"/><circle cx="4093" cy="3059" r="4"/><circle cx="4103" cy="3065" r="4"/><circle cx="4083" cy="3066" r="4"/><circle cx="4093" cy="3072" r="4"/><circle cx="4103" cy="3078" r="4"/></g>
<circle cx="4083" cy="3088" r="6" fill="#e8408a"/><circle cx="4098" cy="3096" r="6" fill="#1ab0c0"/>
<use href="#vase" transform="translate(4157,3157) scale(1.3,1.24)" fill="#f8f8f8" stroke="#555" stroke-width="1.5"/>
<use href="#vase" transform="translate(4226,3166) scale(1.3,1.17)" fill="#f8f8f8" stroke="#555" stroke-width="1.5"/>
<use href="#vase" transform="translate(4260,3172) scale(1.3,1.28)" fill="#f8f8f8" stroke="#555" stroke-width="1.5"/>
<use href="#vase" transform="translate(4190,3160) scale(1.3,1.35)" fill="#f8f8f8" stroke="#555" stroke-width="1.5"/>
<use href="#vase" transform="translate(4225,3173) scale(1.3,1.44)" fill="#f8f8f8" stroke="#555" stroke-width="1.5"/>
</g>
</svg>

<div class="lab" style="left:82px;top:1369px;width:1428px;height:135px"></div>
<div class="t w" style="left:141px;top:1383px">Entry-level 3D Printing Software</div>

<div class="lab" style="left:1717px;top:943px;width:1043px;height:135px"></div>
<div class="t w" style="left:1784px;top:955px">Print System Software</div>

<div class="lab" style="left:3388px;top:1128px;width:947px;height:134px"></div>
<div class="t w" style="left:3453px;top:1140px">DropWatching Tools</div>

<div class="lab" style="left:1622px;top:2153px;width:1234px;height:136px"></div>
<div class="t w" style="left:1687px;top:2166px">Printhead Drive Electronics</div>

<div class="gbox" style="left:3210px;top:2188px;width:1217px;height:232px;box-shadow:12px 14px 18px rgba(0,0,0,.42)"></div>
<div class="t k" style="left:3277px;top:2200px">Commercially Available</div>
<div class="t k" style="left:3277px;top:2311px">Industrial Inkjet Printheads</div>

<div class="gbox" style="left:233px;top:2476px;width:1126px;height:362px;box-shadow:-10px 12px 14px rgba(0,0,0,.35)"></div>
<div class="t k" style="left:291px;top:2500px">Commercially Available</div>
<div class="t k" style="left:291px;top:2612px">Build Tools for 3D Model</div>
<div class="t k" style="left:291px;top:2722px">Processing</div>
</div></body></html>
